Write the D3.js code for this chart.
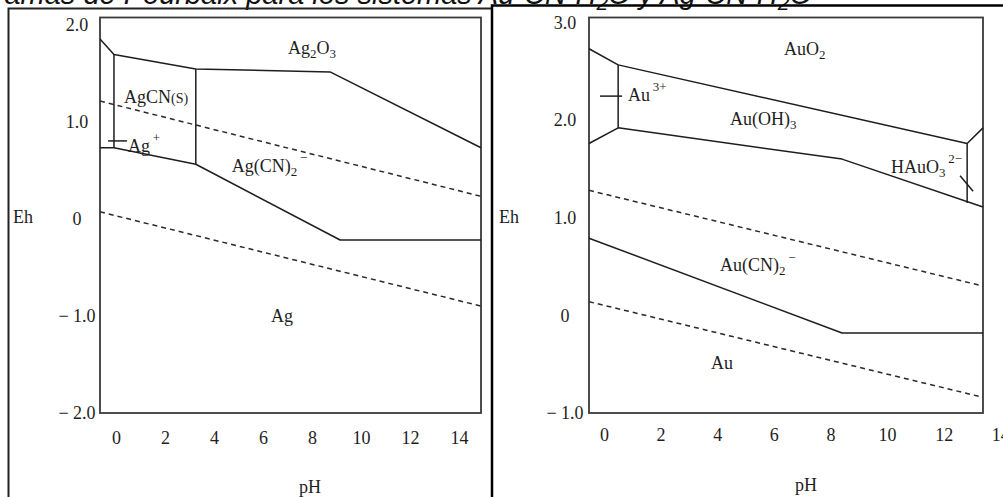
<!DOCTYPE html>
<html>
<head>
<meta charset="utf-8">
<script src="https://cdn.jsdelivr.net/npm/d3@7"></script>
<style>
  html, body { margin: 0; padding: 0; background: #fff; }
  svg { display: block; }
</style>
</head>
<body>
<script>
// ---- Ag-CN-H2O system: boundaries as [pH, Eh] pairs ----
const agPhTicks = [0, 2, 4, 6, 8, 10, 12, 14];
const agEhTicks = [-2, -1, 0, 1, 2];
const agUpperBoundary = [[-0.65, 1.85], [-0.08, 1.69], [3.26, 1.54], [8.74, 1.51], [14.9, 0.73]];
const agLowerBoundary = [[-0.65, 0.73], [-0.08, 0.73], [3.26, 0.56], [9.15, -0.22], [14.9, -0.22]];
const agCnLeftWall = [[-0.08, 1.69], [-0.08, 0.73]];
const agCnRightWall = [[3.26, 1.54], [3.26, 0.56]];
const agIonTick = [[-0.32, 0.80], [0.45, 0.80]];
const agWaterUpper = [[-0.65, 1.21], [14.9, 0.23]];
const agWaterLower = [[-0.65, 0.07], [14.9, -0.90]];
const agLabels = [
  { parts: [["Ag"], ["2", "sub"], ["O"], ["3", "sub"]], ph: 8.0, eh: 1.69, anchor: "middle" },
  { parts: [["AgCN"], ["(S)", "small"]], ph: 0.33, eh: 1.19, anchor: "start" },
  { parts: [["Ag"], ["+", "sup"]], ph: 0.49, eh: 0.69, anchor: "start" },
  { parts: [["Ag(CN)"], ["2", "sub"], ["\u2212", "sup"]], ph: 4.73, eh: 0.48, anchor: "start" },
  { parts: [["Ag"]], ph: 6.78, eh: -1.06, anchor: "middle" }
];

// ---- Au-CN-H2O system ----
const auPhTicks = [0, 2, 4, 6, 8, 10, 12, 14];
const auEhTicks = [-1, 0, 1, 2, 3];
const auUpperBoundary = [[-0.53, 2.73], [0.5, 2.565], [12.83, 1.76], [13.39, 1.92]];
const auHydroxideLower = [[-0.53, 1.76], [0.5, 1.92], [8.41, 1.60], [13.39, 1.11]];
const auIonWall = [[0.5, 2.565], [0.5, 1.92]];
const auHauo3Wall = [[12.83, 1.76], [12.83, 1.15]];
const auIonTick = [[-0.14, 2.245], [0.64, 2.245]];
const auHauo3Tick = [[12.58, 1.43], [13.04, 1.27]];
const auCyanideLower = [[-0.53, 0.79], [8.41, -0.18], [13.39, -0.18]];
const auWaterUpper = [[-0.53, 1.28], [13.39, 0.30]];
const auWaterLower = [[-0.53, 0.14], [13.39, -0.84]];
const auLabels = [
  { parts: [["AuO"], ["2", "sub"]], ph: 6.36, eh: 2.67, anchor: "start" },
  { parts: [["Au"], ["3+", "sup"]], ph: 0.85, eh: 2.20, anchor: "start" },
  { parts: [["Au(OH)"], ["3", "sub"]], ph: 4.45, eh: 1.95, anchor: "start" },
  { parts: [["HAuO"], ["3", "sub"], ["2\u2212", "sup"]], ph: 10.14, eh: 1.46, anchor: "start" },
  { parts: [["Au(CN)"], ["2", "sub"], ["\u2212", "sup"]], ph: 4.10, eh: 0.45, anchor: "start" },
  { parts: [["Au"]], ph: 3.78, eh: -0.55, anchor: "start" }
];

const titleParts = [["Diagramas de Pourbaix para los sistemas Au-CN-H"], ["2", "sub"], ["O y Ag-CN-H"], ["2", "sub"], ["O"]];

// ---------------- drawing ----------------
const W = 1003, H = 497;
const SERIF = "'Liberation Serif', 'Times New Roman', serif";
const INK = "#1e1e1e";

const svg = d3.select("body").append("svg")
  .attr("width", W).attr("height", H);

// writes label pieces as tspans with sub/superscript offsets
function writeParts(textSel, parts, size) {
  let shift = 0;
  parts.forEach(([t, kind]) => {
    let target = 0, fs = size, dx = 0;
    if (kind === "sub") { target = size * 0.22; fs = size * 0.72; }
    else if (kind === "sup") { target = -size * 0.55; fs = size * 0.72; dx = size * 0.15; }
    else if (kind === "small") { fs = size * 0.78; }
    textSel.append("tspan")
      .attr("dy", target - shift)
      .attr("dx", dx)
      .attr("font-size", fs)
      .text(t);
    shift = target;
  });
}

// outer frames
svg.append("text")
  .attr("x", 812).attr("y", 4)
  .attr("text-anchor", "end")
  .attr("font-family", "'Liberation Sans', Arial, sans-serif")
  .attr("font-style", "italic")
  .attr("font-size", 29)
  .attr("fill", "#111")
  .call(s => writeParts(s, titleParts, 29));

const frame = svg.append("g").attr("fill", "none").attr("stroke", "#000");
frame.append("path").attr("d", "M8.5,497 V8.5 H492").attr("stroke-width", 2).attr("stroke", "#222");
frame.append("path").attr("d", "M492,497 V5.5 H1003").attr("stroke-width", 2.5);

function drawPanel(cfg) {
  const x = d3.scaleLinear().domain(cfg.phDomain).range([cfg.left, cfg.right]);
  const y = d3.scaleLinear().domain(cfg.ehDomain).range([cfg.bottom, cfg.top]);
  const g = svg.append("g");
  const line = d3.line().x(d => x(d[0])).y(d => y(d[1]));

  // plot box
  g.append("rect")
    .attr("x", cfg.left).attr("y", cfg.top)
    .attr("width", cfg.right - cfg.left).attr("height", cfg.bottom - cfg.top)
    .attr("fill", "none").attr("stroke", "#3a3a3a").attr("stroke-width", 1.8);

  // pH tick labels
  const xa = g.append("g").attr("transform", `translate(0,${cfg.bottom})`)
    .call(d3.axisBottom(x).tickValues(cfg.phTicks).tickSize(0).tickPadding(cfg.xPad).tickFormat(d3.format("d")));
  xa.select(".domain").remove();
  xa.selectAll("text").attr("font-family", SERIF).attr("font-size", 18).attr("fill", INK);

  // Eh tick labels
  const fmt = v => v === 0 ? "0" : (v < 0 ? "\u2212 " : "") + Math.abs(v).toFixed(1);
  const ya = g.append("g").attr("transform", `translate(${cfg.left},0)`)
    .call(d3.axisLeft(y).tickValues(cfg.ehTicks).tickSize(0).tickFormat(fmt));
  ya.select(".domain").remove();
  ya.selectAll("text").attr("font-family", SERIF).attr("font-size", 18).attr("fill", INK)
    .attr("text-anchor", "middle").attr("x", cfg.yLabelX - cfg.left);

  // axis titles
  g.append("text").attr("x", cfg.ehTitleX).attr("y", 217).attr("dy", "0.35em")
    .attr("text-anchor", "middle").attr("font-family", SERIF).attr("font-size", 18).attr("fill", INK)
    .text("Eh");
  g.append("text").attr("x", cfg.phTitleX).attr("y", cfg.phTitleY)
    .attr("text-anchor", "middle").attr("font-family", SERIF).attr("font-size", 18).attr("fill", INK)
    .text("pH");

  // stability lines of water
  cfg.dashed.forEach(d => g.append("path").attr("d", line(d))
    .attr("fill", "none").attr("stroke", "#2a2a2a").attr("stroke-width", 1.5)
    .attr("stroke-dasharray", "5,4"));

  // phase boundaries
  cfg.solid.forEach(d => g.append("path").attr("d", line(d))
    .attr("fill", "none").attr("stroke", INK).attr("stroke-width", 1.5)
    .attr("stroke-linejoin", "round"));

  // species labels
  cfg.labels.forEach(l => {
    g.append("text")
      .attr("x", x(l.ph)).attr("y", y(l.eh))
      .attr("text-anchor", l.anchor)
      .attr("font-family", SERIF).attr("font-size", 18).attr("fill", INK)
      .call(s => writeParts(s, l.parts, 18));
  });
}

drawPanel({
  left: 100, right: 481, top: 17.5, bottom: 413,
  phDomain: [-0.65, 14.9], ehDomain: [-2, 2.07],
  phTicks: agPhTicks, ehTicks: agEhTicks,
  xPad: 18, yLabelX: 77, ehTitleX: 23, phTitleX: 310, phTitleY: 493,
  solid: [agUpperBoundary, agLowerBoundary, agCnLeftWall, agCnRightWall, agIonTick],
  dashed: [agWaterUpper, agWaterLower],
  labels: agLabels
});

drawPanel({
  left: 589, right: 983, top: 17.5, bottom: 413,
  phDomain: [-0.53, 13.39], ehDomain: [-1, 3.05],
  phTicks: auPhTicks, ehTicks: auEhTicks,
  xPad: 15, yLabelX: 565, ehTitleX: 509, phTitleX: 806, phTitleY: 491,
  solid: [auUpperBoundary, auHydroxideLower, auIonWall, auHauo3Wall, auIonTick, auHauo3Tick, auCyanideLower],
  dashed: [auWaterUpper, auWaterLower],
  labels: auLabels
});
</script>
</body>
</html>
